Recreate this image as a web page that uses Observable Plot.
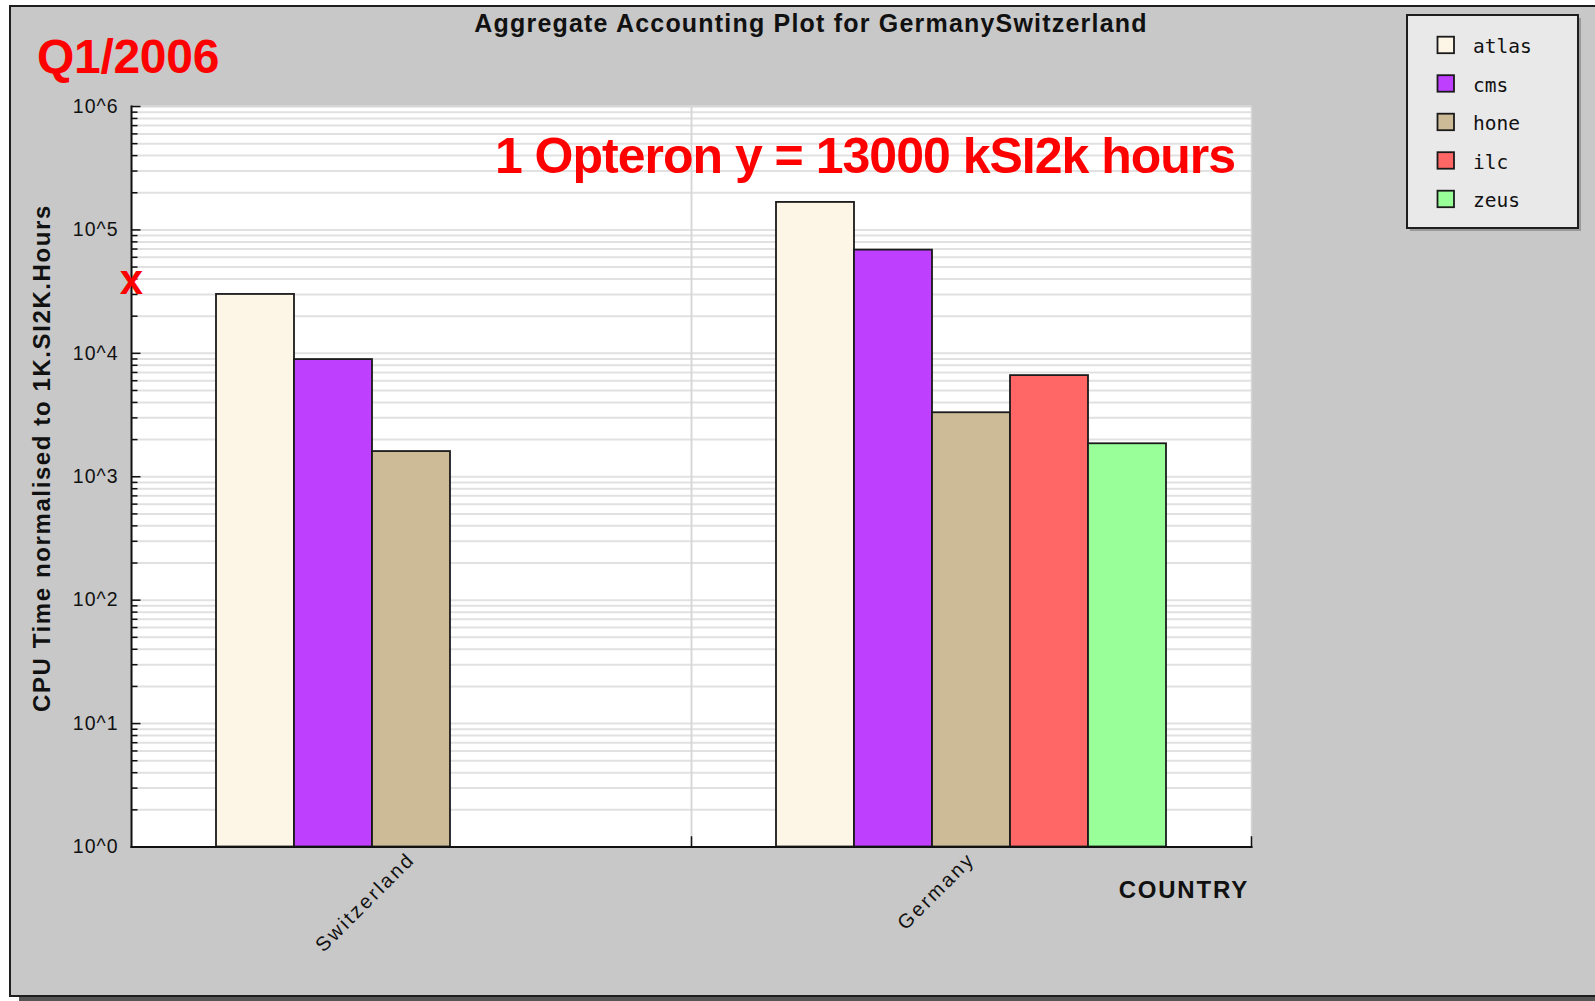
<!DOCTYPE html>
<html><head><meta charset="utf-8">
<script src="https://cdn.jsdelivr.net/npm/d3@7"></script>
<script src="https://cdn.jsdelivr.net/npm/@observablehq/plot@0.6"></script>
<style>
html,body{margin:0;padding:0;background:#fff;overflow:hidden;width:1595px;height:1001px;}
#frame{position:absolute;left:9px;top:5px;width:1700px;height:988px;background:#c8c8c8;border:2px solid #1e1e1e;box-shadow:10px 5px 0 #555;}
#chart{position:absolute;left:0;top:0;}
#overlay{position:absolute;left:0;top:0;}
</style></head><body>
<div id="frame"></div>
<div id="chart"></div>
<svg id="overlay" width="1595" height="1001"></svg>
<script>
// ---- data ----
const countries = ["Switzerland", "Germany"];
const series = ["atlas", "cms", "hone", "ilc", "zeus"];
const seriesColors = ["#fdf5e6", "#bf3fff", "#cdbb97", "#ff6666", "#99ff99"];
const switzerlandCpu = [30000, 8900, 1600, null, null];
const germanyCpu = [167000, 68600, 3300, 6600, 1850];
const yDomain = [1, 1e6];
const yMajorTicks = [1, 10, 100, 1000, 10000, 100000, 1000000];
const yTickLabels = ["10^0", "10^1", "10^2", "10^3", "10^4", "10^5", "10^6"];
const markerValue = [39000];
const titleText = "Aggregate Accounting Plot for GermanySwitzerland";
const periodText = "Q1/2006";
const noteText = "1 Opteron y = 13000 kSI2k hours";
const yLabelText = "CPU Time normalised to 1K.SI2K.Hours";
const xLabelText = "COUNTRY";

// ---- table ----
const rows = [];
[switzerlandCpu, germanyCpu].forEach((vals, ci) =>
  vals.forEach((v, si) => { if (v != null) rows.push({country: countries[ci], series: series[si], value: v}); }));

const W = 1595, H = 1001;
const mL = 130, mR = 344, mT = 106, mB = 154.5;
const facetW = (W - mL - mR) / countries.length;
const plotH = H - mT - mB;
const yGridTicks = d3.scaleLog().domain(yDomain).ticks(60);
const yMinorTicks = yGridTicks.filter(t => !yMajorTicks.includes(t));

const plot = Plot.plot({
  width: W, height: H,
  marginLeft: mL, marginRight: mR, marginTop: mT, marginBottom: mB,
  style: {background: "transparent", fontFamily: "'Liberation Sans', Arial, sans-serif", color: "#111", maxWidth: "none"},
  fx: {domain: countries, padding: 0},
  x: {domain: series, paddingInner: 0, paddingOuter: 1.05, axis: null},
  y: {type: "log", domain: yDomain},
  color: {domain: series, range: seriesColors},
  marks: [
    Plot.frame({fill: "white"}),
    Plot.ruleY(yGridTicks, {y: d => d, stroke: "#e1e1e1", strokeWidth: 2}),
    Plot.frame({stroke: "#d6d6d6", strokeWidth: 1.5}),
    Plot.barY(rows, {fx: "country", x: "series", y1: () => yDomain[0], y2: "value", fill: "series", stroke: "#1a1a1a", strokeWidth: 1.8}),
    Plot.ruleY(yMinorTicks, {y: d => d, fx: () => countries[0], insetRight: facetW - 7, stroke: "#111", strokeWidth: 1.5}),
    Plot.ruleY(yMajorTicks, {y: d => d, fx: () => countries[0], insetRight: facetW - 10, stroke: "#111", strokeWidth: 1.5}),
    Plot.frame({anchor: "bottom", stroke: "#111", strokeWidth: 2}),
    Plot.frame({anchor: "left", facetAnchor: "left", stroke: "#111", strokeWidth: 2}),
    Plot.frame({anchor: "right", insetTop: plotH - 10, stroke: "#111", strokeWidth: 1.5}),
    Plot.axisY({ticks: yMajorTicks, tickFormat: d => yTickLabels[yMajorTicks.indexOf(d)], tickSize: 0, tickPadding: 13, fontSize: 19.5, label: null}),
    Plot.axisFx({anchor: "bottom", tickRotate: -45, tickSize: 0, tickPadding: 9, fontSize: 20, label: null}),
    Plot.text(markerValue, {y: d => d, fx: () => countries[0], frameAnchor: "left", textAnchor: "middle", text: () => "x", fill: "#ff0000", fontSize: 42, fontWeight: "bold"})
  ]
});
document.getElementById("chart").appendChild(plot);
d3.select(plot).selectAll('g[aria-label="fx-axis tick label"] text').attr("letter-spacing", 2.5);
d3.select(plot).selectAll('g[aria-label="y-axis tick label"] text').attr("letter-spacing", 1);

// ---- overlay texts and legend ----
const ov = d3.select("#overlay");
const sans = "'Liberation Sans', Arial, sans-serif";
ov.append("text").attr("x", 811).attr("y", 31.5).attr("text-anchor", "middle")
  .attr("font-family", sans).attr("font-weight", "bold").attr("font-size", 25).attr("letter-spacing", 1.2)
  .attr("fill", "#111").text(titleText);
ov.append("text").attr("x", 37).attr("y", 73).attr("font-family", sans).attr("font-weight", "bold")
  .attr("font-size", 48).attr("letter-spacing", -0.3).attr("fill", "#ff0000").text(periodText);
ov.append("text").attr("x", 865).attr("y", 173).attr("text-anchor", "middle").attr("font-family", sans)
  .attr("font-weight", "bold").attr("font-size", 50).attr("letter-spacing", -1).attr("fill", "#ff0000").text(noteText);
ov.append("text").attr("transform", "translate(50,458) rotate(-90)").attr("text-anchor", "middle")
  .attr("font-family", sans).attr("font-weight", "bold").attr("font-size", 24).attr("letter-spacing", 1.6)
  .attr("fill", "#111").text(yLabelText);
ov.append("text").attr("x", 1249).attr("y", 898).attr("text-anchor", "end").attr("font-family", sans)
  .attr("font-weight", "bold").attr("font-size", 24).attr("letter-spacing", 1.8).attr("fill", "#111").text(xLabelText);

const lg = ov.append("g");
lg.append("rect").attr("x", 1410).attr("y", 18).attr("width", 171).attr("height", 213).attr("fill", "#9a9a9a");
lg.append("rect").attr("x", 1407).attr("y", 15).attr("width", 171).attr("height", 213)
  .attr("fill", "#e9e9e9").attr("stroke", "#1e1e1e").attr("stroke-width", 2);
series.forEach((s, i) => {
  const cy = 45 + i * 38.5;
  lg.append("rect").attr("x", 1437.5).attr("y", cy - 8.3).attr("width", 16.5).attr("height", 16.5)
    .attr("fill", seriesColors[i]).attr("stroke", "#1a1a1a").attr("stroke-width", 1.8);
  lg.append("text").attr("x", 1473).attr("y", cy + 8).attr("font-family", "'DejaVu Sans Mono', monospace")
    .attr("font-size", 19.5).attr("fill", "#111").text(s);
});
</script>
</body></html>
